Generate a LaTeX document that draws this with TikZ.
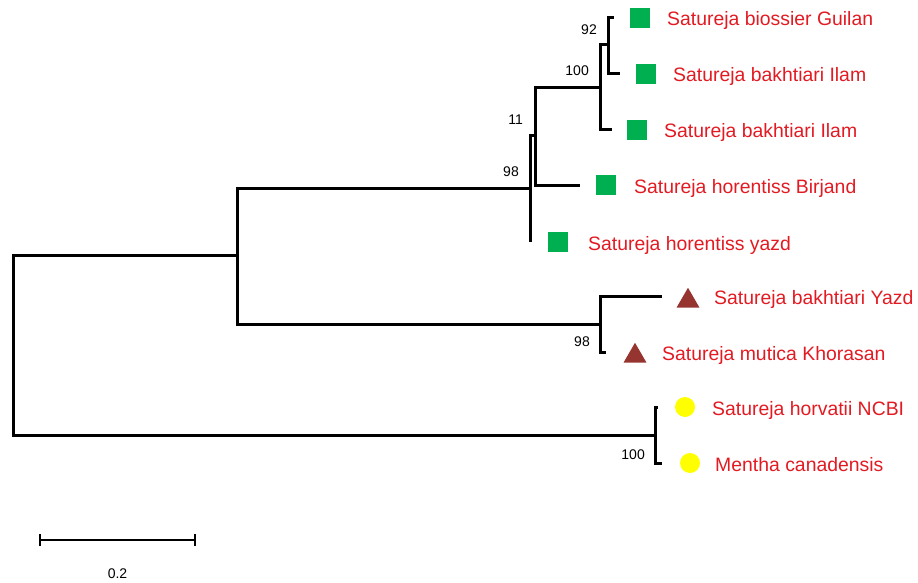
\documentclass[tikz,border=0pt]{standalone}
\usepackage{fontspec}
\setmainfont{Liberation Sans}
\usetikzlibrary{shapes.geometric}
\definecolor{labelred}{RGB}{226,26,34}
\definecolor{sqgreen}{RGB}{0,176,80}
\definecolor{tribrown}{RGB}{150,52,48}
\definecolor{dotyellow}{RGB}{255,255,0}
\tikzset{
  branch/.style={line width=3pt, line join=miter, black},
  taxon/.style={anchor=base west, inner sep=0pt, text=labelred, font=\fontsize{19.4}{22}\selectfont},
  boot/.style={anchor=east, inner sep=0pt, font=\fontsize{14}{16}\selectfont},
  sqmark/.style={rectangle, fill=sqgreen, minimum size=20pt, inner sep=0pt},
  trimark/.style={regular polygon, regular polygon sides=3, fill=tribrown, minimum size=26.5pt, inner sep=0pt},
  dotmark/.style={circle, fill=dotyellow, minimum size=20pt, inner sep=0pt},
}
\begin{document}
\begin{tikzpicture}[x=1pt, y=-1pt]
\useasboundingbox (0,0) rectangle (918,583);

% internal nodes
\coordinate (root) at (13,345);
\coordinate (nU)   at (237,255);
\coordinate (nG)   at (530,188);
\coordinate (n11)  at (535,136);
\coordinate (n100) at (600,88);
\coordinate (n92)  at (608,45);
\coordinate (nL)   at (600,324);
\coordinate (nO)   at (655,435);

% leaf tips
\coordinate (tGuilan)   at (614,18);
\coordinate (tIlamA)    at (620,74);
\coordinate (tIlamB)    at (612,130);
\coordinate (tBirjand)  at (580,185);
\coordinate (tYazd)     at (530,242);
\coordinate (tBakYazd)  at (662,296);
\coordinate (tKhorasan) at (606,352);
\coordinate (tNCBI)     at (658,407);
\coordinate (tMentha)   at (662,463);

% branches
\draw[branch] (root) |- (nU);
\draw[branch] (root) |- (nO);
\draw[branch] (nU) |- (nG);
\draw[branch] (nU) |- (nL);
\draw[branch] (nG) |- (n11);
\draw[branch] (nG) |- (tYazd);
\draw[branch] (n11) |- (n100);
\draw[branch] (n11) |- (tBirjand);
\draw[branch] (n100) |- (n92);
\draw[branch] (n100) |- (tIlamB);
\draw[branch] (n92) |- (tGuilan);
\draw[branch] (n92) |- (tIlamA);
\draw[branch] (nL) |- (tBakYazd);
\draw[branch] (nL) |- (tKhorasan);
\draw[branch] (nO) |- (tNCBI);
\draw[branch] (nO) |- (tMentha);

% bootstrap values
\node[boot] (b92)   at (597,30)    {92};
\node[boot] (b100a) at (589,70.5)  {100};
\node[boot] (b11)   at (523,120)   {11};
\node[boot] (b98a)  at (519,172)   {98};
\node[boot] (b98b)  at (590,342)   {98};
\node[boot] (b100b) at (645,455)   {100};

% group markers
\node[sqmark]  (mGuilan)   at (640,18)  {};
\node[sqmark]  (mIlamA)    at (646,74)  {};
\node[sqmark]  (mIlamB)    at (637,130) {};
\node[sqmark]  (mBirjand)  at (606,185) {};
\node[sqmark]  (mYazd)     at (558,242) {};
\node[trimark] (mBakYazd)  at (688,301) {};
\node[trimark] (mKhorasan) at (635,356) {};
\node[dotmark] (mNCBI)     at (685,407) {};
\node[dotmark] (mMentha)   at (690,463) {};

% taxon labels
\node[taxon] (lGuilan)   at (667,26)  {Satureja biossier Guilan};
\node[taxon] (lIlamA)    at (673,82)  {Satureja bakhtiari Ilam};
\node[taxon] (lIlamB)    at (664,138) {Satureja bakhtiari Ilam};
\node[taxon] (lBirjand)  at (634,193) {Satureja horentiss Birjand};
\node[taxon] (lYazd)     at (588,250) {Satureja horentiss yazd};
\node[taxon] (lBakYazd)  at (714,304) {Satureja bakhtiari Yazd};
\node[taxon] (lKhorasan) at (662,360) {Satureja mutica Khorasan};
\node[taxon] (lNCBI)     at (712,415) {Satureja horvatii NCBI};
\node[taxon] (lMentha)   at (715,471) {Mentha canadensis};

% scale bar
\coordinate (sbL) at (40,540);
\coordinate (sbR) at (195,540);
\draw[line width=2.5pt] (sbL) -- (sbR);
\draw[line width=2.5pt] ([yshift=-6pt]sbL) -- ([yshift=6pt]sbL);
\draw[line width=2.5pt] ([yshift=-6pt]sbR) -- ([yshift=6pt]sbR);
\node[inner sep=0pt, font=\fontsize{14}{16}\selectfont] (sbText) at (117.5,574) {0.2};
\end{tikzpicture}
\end{document}
